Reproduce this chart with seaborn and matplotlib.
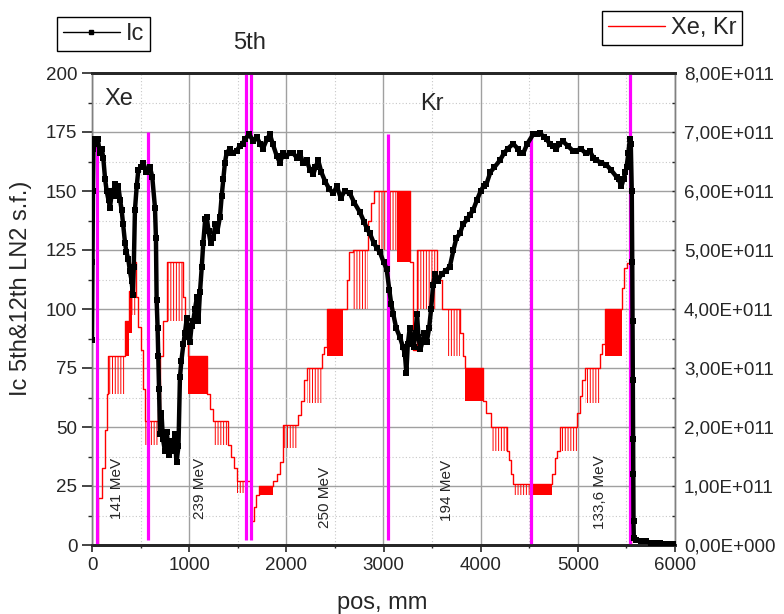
import numpy as np
import matplotlib
matplotlib.use("Agg")
import matplotlib.pyplot as plt
import seaborn as sns
from matplotlib.ticker import MultipleLocator, FuncFormatter
from matplotlib.lines import Line2D

# Ic of the 5th & 12th tape (left axis)
ic_pos = [0, 5, 10, 15, 25, 40, 60, 80, 100, 116, 135, 151, 170, 185, 200, 220, 237, 255, 271, 290,
          305, 320, 340, 355, 374, 390, 408, 420, 430, 442, 460, 477, 500, 528, 560, 597, 620, 648,
          658, 665, 675, 682, 690, 700, 715, 730, 750, 770, 790, 810, 830, 850, 870, 890, 905, 920,
          940, 957, 975, 990, 1008, 1025, 1042, 1060, 1080, 1095, 1111, 1130, 1145, 1165, 1180, 1200,
          1220, 1248, 1270, 1290, 1317, 1335, 1351, 1368, 1385, 1420, 1450, 1488, 1520, 1550, 1574,
          1620, 1660, 1694, 1730, 1760, 1800, 1831, 1860, 1900, 1934, 1970, 2000, 2040, 2071, 2110,
          2140, 2170, 2208, 2243, 2277, 2300, 2328, 2360, 2400, 2440, 2483, 2520, 2560, 2600, 2654,
          2700, 2757, 2800, 2830, 2860, 2900, 2930, 2963, 3000, 3032, 3060, 3080, 3100, 3130, 3169,
          3200, 3220, 3235, 3250, 3270, 3290, 3310, 3330, 3345, 3360, 3380, 3400, 3420, 3445, 3470,
          3490, 3510, 3530, 3560, 3600, 3640, 3683, 3720, 3750, 3786, 3820, 3860, 3890, 3923, 3960,
          4000, 4030, 4060, 4100, 4140, 4198, 4240, 4280, 4335, 4380, 4403, 4438, 4480, 4540, 4580,
          4609, 4650, 4678, 4710, 4746, 4780, 4810, 4849, 4900, 4950, 4986, 5030, 5080, 5123, 5160,
          5192, 5240, 5295, 5340, 5398, 5420, 5449, 5470, 5490, 5501, 5520, 5535, 5545, 5555, 5560,
          5563, 5566, 5568, 5570, 5573, 5576, 5600, 5650, 5700, 5750, 5800, 5850, 5900, 5950, 6000]
ic_val = [87, 120, 150, 168, 172, 170, 172, 166, 168, 164, 155, 150, 146, 143, 148, 150, 153, 148, 152, 146,
          142, 136, 128, 124, 121, 116, 112, 106, 118, 142, 152, 159, 160, 162, 158, 160, 156, 143,
          130, 104, 92, 80, 66, 47, 56, 45, 40, 48, 38, 44, 40, 47, 35, 42, 71, 78,
          85, 90, 96, 88, 86, 93, 95, 100, 105, 95, 107, 118, 128, 138, 139, 133,
          128, 130, 136, 133, 139, 148, 155, 162, 166, 168, 166, 167, 169, 170, 172,
          174, 171, 173, 170, 168, 172, 174, 170, 165, 162, 166, 165, 166, 166, 164,
          166, 162, 163, 159, 157, 160, 163, 158, 154, 151, 149, 152, 147, 150, 149,
          145, 141, 137, 134, 132, 128, 126, 124, 120, 117, 108, 102, 98, 92, 88,
          84, 81, 73, 85, 92, 88, 84, 90, 98, 88, 83, 86, 90, 86, 92,
          100, 110, 115, 112, 115, 116, 118, 125, 130, 132, 136, 138, 140, 142, 146,
          150, 152, 153, 158, 160, 163, 166, 168, 170, 168, 166, 166, 170, 174, 174,
          174.5, 173, 172, 170, 169, 168, 170, 171, 169, 167, 167, 168, 166, 167, 164,
          163, 162, 161, 159, 156, 155, 152, 155, 158, 160, 166, 172, 170, 150, 120,
          95, 70, 45, 30, 10, 3, 2, 1.5, 1.5, 1, 1, 1, 0.5, 0.5, 0.5]

# Xe, Kr ion fluence, step profile (right axis, in units of 1E+011)
red_pos = [0, 60, 100, 130, 150, 167, 340, 380, 410, 450, 475, 500, 520, 545, 680, 700, 730, 770,
           935, 960, 990, 1180, 1210, 1250, 1400, 1430, 1460, 1490, 1590, 1640, 1665, 1690, 1720,
           1860, 1900, 1930, 1965, 2120, 2150, 2180, 2210, 2365, 2390, 2415, 2580, 2620, 2650, 2685,
           2840, 2870, 2900, 3270, 3300, 3340, 3550, 3600, 3790, 3815, 3840, 4020, 4060, 4110,
           4270, 4290, 4310, 4335, 4730, 4760, 4790, 4815, 4990, 5020, 5045, 5070, 5225, 5250,
           5280, 5450, 5480, 5510, 5545, 6000]
red_val = [0, 0.8, 1.3, 1.95, 2.56, 3.2, 3.8, 4.3, 4.8, 4.2, 3.7, 3.3, 2.65, 2.1, 2.3, 3.2, 3.8, 4.8,
           4.2, 3.7, 3.2, 2.56, 2.3, 2.1, 1.7, 1.5, 1.3, 1.08, 1.08, 0.4, 0.65, 0.85, 1.0,
           1.08, 1.2, 1.4, 2.04, 2.2, 2.44, 2.8, 3.0, 3.24, 3.36, 4.0, 4.0, 4.5, 4.96, 5.0,
           5.5, 5.8, 6.0, 4.8, 3.3, 5.0, 4.5, 4.0, 3.6, 3.2, 3.0, 2.44, 2.24, 2.0,
           1.6, 1.44, 1.2, 1.04, 1.2, 1.48, 1.6, 2.0, 2.24, 2.52, 2.8, 3.0, 3.24, 3.4,
           4.0, 4.36, 4.7, 4.78, 0, 0]

# regions where the fluence flickers between two levels
band_start = [167, 340, 380, 410, 545, 770, 990, 1250, 1490, 1720, 1965, 2210, 2415, 2685, 2930, 3135,
              3340, 3650, 3840, 4110, 4335, 4540, 4815, 5070, 5280]
band_end = [340, 380, 410, 450, 680, 935, 1180, 1400, 1590, 1860, 2120, 2365, 2580, 2840, 3135, 3270,
            3550, 3790, 4020, 4270, 4540, 4730, 4990, 5225, 5450]
band_low = [2.56, 3.2, 3.6, 3.9, 1.7, 3.8, 2.56, 1.7, 0.88, 0.85, 1.64, 2.4, 3.2, 4.0, 5.0, 4.8,
            4.0, 3.2, 2.44, 1.6, 0.84, 0.84, 1.6, 2.4, 3.2]
band_high = [3.2, 3.8, 4.3, 4.8, 2.1, 4.8, 3.2, 2.1, 1.08, 1.0, 2.04, 3.0, 4.0, 5.0, 6.0, 6.0,
             5.0, 4.0, 3.0, 2.0, 1.04, 1.04, 2.0, 3.0, 4.0]
band_solid = [False, True, True, False, False, False, True, False, False, True, False, False, True, False,
              False, True, False, False, True, False, False, True, False, False, True]

# magenta position markers
mark_pos = [50, 579, 1581, 1636, 3049, 4520, 5535]
mark_bottom = [-1, 2, 2, 2, 2, 0, 0]
mark_top = [172, 175, 200, 200, 174, 174, 200]

energy_text = ["141 MeV", "239 MeV", "250 MeV", "194 MeV", "133,6 MeV"]
energy_pos = [254, 1111, 2397, 3649, 5226]
energy_y = [24, 24, 20, 23, 22.5]

sns.set_style("ticks")
plt.rcParams["font.family"] = ["Liberation Sans", "DejaVu Sans"]
plt.rcParams["hatch.linewidth"] = 0.7
plt.rcParams["hatch.color"] = "red"

fig = plt.figure(figsize=(7.84, 6.14), dpi=100)
ax = fig.add_axes([92 / 784, 1 - 545 / 614, 583 / 784, 472 / 614])
ax2 = ax.twinx()
ax.set_zorder(ax2.get_zorder() + 1)
ax.patch.set_visible(False)

# grid lives on the lower (right) axes so it sits under the red bands
ax2.xaxis.set_visible(True)
ax2.set_axisbelow(True)
ax2.grid(which="major", color="#a0a0a0", lw=1)
ax2.grid(which="minor", color="#c8c8c8", lw=0.8, ls=(0, (1, 2)))

# red profile
red_abs = [v * 1e11 for v in red_val]
sns.lineplot(x=red_pos, y=red_abs, ax=ax2, color="red", lw=1, drawstyle="steps-post",
             estimator=None, sort=False)
for s, e, lo, hi, solid in zip(band_start, band_end, band_low, band_high, band_solid):
    if solid:
        ax2.fill_between([s, e], lo * 1e11, hi * 1e11, color="red", lw=0)
    else:
        ax2.fill_between([s, e], lo * 1e11, hi * 1e11, facecolor="none", edgecolor="red",
                         hatch="||||||", lw=0)

# magenta markers, then Ic on top
ax.vlines(mark_pos, mark_bottom, mark_top, color="#ff00ff", lw=2.3, zorder=2)
sns.lineplot(x=ic_pos, y=ic_val, ax=ax, color="black", lw=3.2, marker="s", markersize=4.5,
             markeredgewidth=0, estimator=None, sort=False, zorder=3)

for t, p, y in zip(energy_text, energy_pos, energy_y):
    ax.text(p, y, t, rotation=90, ha="center", va="center", fontsize=11)
ax.text(278, 189, "Xe", ha="center", va="center", fontsize=17)
ax.text(3498, 187, "Kr", ha="center", va="center", fontsize=17)
fig.text(250 / 784, 1 - 43 / 614, "5th", ha="center", va="center", fontsize=17)

ax.set_xlim(0, 6000)
ax.set_ylim(0, 200)
ax2.set_ylim(0, 8e11)
ax.xaxis.set_major_locator(MultipleLocator(1000))
ax.xaxis.set_minor_locator(MultipleLocator(500))
ax.yaxis.set_major_locator(MultipleLocator(25))
ax.yaxis.set_minor_locator(MultipleLocator(12.5))
ax2.yaxis.set_major_locator(MultipleLocator(1e11))
ax2.yaxis.set_minor_locator(MultipleLocator(0.5e11))


def sci_comma(v, _):
    if v == 0:
        return "0,00E+000"
    exp = int(np.floor(np.log10(abs(v)) + 1e-9))
    return f"{v / 10 ** exp:.2f}".replace(".", ",") + f"E+{exp:03d}"


ax2.yaxis.set_major_formatter(FuncFormatter(sci_comma))

ax.tick_params(axis="y", which="major", direction="out", length=7, width=1.2, pad=3.5, labelsize=13.5)
ax.tick_params(axis="y", which="minor", direction="out", length=3, width=1)
ax.tick_params(axis="x", which="major", direction="out", length=5, width=1.2, pad=4, labelsize=13.5)
ax.tick_params(axis="x", which="minor", direction="out", length=2.5, width=1)
ax.tick_params(top=False, which="both")
ax2.tick_params(axis="y", which="both", direction="in", length=2.5, width=1, pad=6.5, labelsize=13.5)
ax2.tick_params(axis="x", which="both", bottom=False, top=False, labelbottom=False, labeltop=False)

for a in (ax, ax2):
    a.spines["top"].set_linewidth(2)
    a.spines["bottom"].set_linewidth(2)
    a.spines["left"].set_color("#808080")
    a.spines["right"].set_color("#808080")
    a.spines["left"].set_linewidth(1)
    a.spines["right"].set_linewidth(1)

ax.set_xlabel("pos, mm", fontsize=17)
ax.set_ylabel("Ic 5th&12th LN2 s.f.)", fontsize=17)
ax.xaxis.set_label_coords(0.497, -0.1)
ax.yaxis.set_label_coords(-0.103, 0.544)
ax2.set_ylabel("")

ic_handle = Line2D([], [], color="black", lw=1, marker="s", markersize=3)
red_handle = Line2D([], [], color="red", lw=1)
leg_kw = dict(frameon=True, fancybox=False, edgecolor="black", framealpha=1, borderaxespad=0,
              handlelength=2.4, handletextpad=0.25, borderpad=0.25, fontsize=17,
              bbox_transform=fig.transFigure)
leg1 = fig.legend([ic_handle], ["Ic"], loc="upper left", bbox_to_anchor=(57 / 784, 1 - 17 / 614), **leg_kw)
leg2 = fig.legend([red_handle], ["Xe, Kr"], loc="upper right", bbox_to_anchor=(742 / 784, 1 - 11 / 614), **leg_kw)
for lg in (leg1, leg2):
    lg.get_frame().set_linewidth(1)

fig.savefig("out.png", dpi=100)
